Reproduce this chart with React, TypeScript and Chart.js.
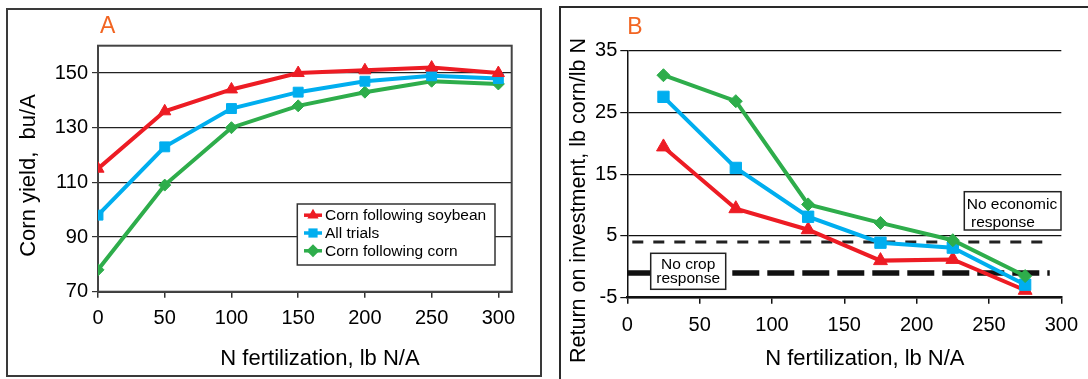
import React, { useEffect, useRef } from 'react';
import { Chart, registerables } from 'chart.js';

Chart.register(...registerables);

const FONT = '"Liberation Sans", Arial, Helvetica, sans-serif';
const RED = '#ED1C24';
const BLUE = '#00AEEF';
const GREEN = '#2EAD4B';
const ORANGE = '#F26522';

// ---------- Panel A data ----------
const seriesNames = ['Corn following soybean', 'All trials', 'Corn following corn'];
const nRatesA = [0, 50, 100, 150, 200, 250, 300];
const yieldSoybean = [115, 136, 144, 150, 151, 152, 150];
const yieldAll = [98, 123, 137, 143, 147, 149, 148];
const yieldCorn = [78, 109, 130, 138, 143, 147, 146];
const yTicksA = [70, 90, 110, 130, 150];
const xTicksA = [0, 50, 100, 150, 200, 250, 300];

// ---------- Panel B data ----------
const nRatesB = [25, 75, 125, 175, 225, 275];
const roiSoybean = [19.4, 9.4, 6.0, 1.0, 1.2, -3.8];
const roiAll = [27.5, 16.0, 8.1, 3.9, 3.1, -2.9];
const roiCorn = [31, 26.8, 10.1, 7.1, 4.3, -1.5];
const yTicksB = [-5, 5, 15, 25, 35];
const xTicksB = [0, 50, 100, 150, 200, 250, 300];
const thresholdX = [0, 292];
const noEconomicLevel = 4;
const noCropLevel = -1;
const noEconomicText = ['No economic', ' response'];
const noCropText = ['No crop', 'response'];

const titleA = 'A';
const titleB = 'B';
const yTitleA = 'Corn yield,  bu/A';
const yTitleB = 'Return on investment, lb corn/lb N';
const xTitle = 'N fertilization, lb N/A';

const pts = (xs: number[], ys: number[]) => xs.map((x, i) => ({ x, y: ys[i] }));
const setTicks = (vals: number[]) => (s: any) => {
  s.ticks = vals.map((v) => ({ value: v }));
};

function drawMarker(ctx: CanvasRenderingContext2D, style: string, x: number, y: number, r: number) {
  ctx.beginPath();
  if (style === 'triangle') {
    ctx.moveTo(x, y - r);
    ctx.lineTo(x + r * 0.866, y + r * 0.5);
    ctx.lineTo(x - r * 0.866, y + r * 0.5);
    ctx.closePath();
  } else if (style === 'rect') {
    const s = r * Math.SQRT1_2;
    ctx.rect(x - s, y - s, 2 * s, 2 * s);
  } else {
    ctx.moveTo(x, y - r);
    ctx.lineTo(x + r, y);
    ctx.lineTo(x, y + r);
    ctx.lineTo(x - r, y);
    ctx.closePath();
  }
  ctx.fill();
}

const textPlugin = {
  id: 'panelText',
  afterDraw(chart: any, _a: any, opts: any) {
    const ctx = chart.ctx as CanvasRenderingContext2D;
    for (const t of opts.items || []) {
      ctx.save();
      ctx.font = `${t.size}px ${FONT}`;
      ctx.fillStyle = t.color || '#000';
      ctx.textAlign = t.align || 'center';
      ctx.textBaseline = 'alphabetic';
      ctx.translate(t.x, t.y);
      if (t.rotate) ctx.rotate(t.rotate);
      ctx.fillText(t.text, 0, 0);
      ctx.restore();
    }
  },
};

const plotBoxPlugin = {
  id: 'plotBox',
  beforeDatasetsDraw(chart: any, _a: any, opts: any) {
    if (!opts.show) return;
    const { ctx, chartArea: c } = chart;
    ctx.save();
    ctx.strokeStyle = '#444';
    ctx.lineWidth = 2;
    ctx.strokeRect(c.left, c.top, c.right - c.left, c.bottom - c.top);
    ctx.restore();
  },
};

const insetLegendPlugin = {
  id: 'insetLegend',
  afterDatasetsDraw(chart: any, _a: any, opts: any) {
    if (!opts.box) return;
    const ctx = chart.ctx as CanvasRenderingContext2D;
    const b = opts.box;
    ctx.save();
    ctx.fillStyle = '#fff';
    ctx.fillRect(b.x, b.y, b.w, b.h);
    ctx.strokeStyle = '#333';
    ctx.lineWidth = 1.5;
    ctx.strokeRect(b.x, b.y, b.w, b.h);
    chart.data.datasets.forEach((ds: any, i: number) => {
      const y = opts.firstRow + i * opts.rowGap;
      ctx.strokeStyle = ds.borderColor;
      ctx.lineWidth = 3.5;
      ctx.beginPath();
      ctx.moveTo(opts.lineX0, y);
      ctx.lineTo(opts.lineX1, y);
      ctx.stroke();
      ctx.fillStyle = ds.backgroundColor;
      drawMarker(ctx, ds.pointStyle, (opts.lineX0 + opts.lineX1) / 2, y, opts.markerR);
      ctx.fillStyle = '#000';
      ctx.font = `${opts.fontSize}px ${FONT}`;
      ctx.textAlign = 'left';
      ctx.textBaseline = 'middle';
      ctx.fillText(ds.label, opts.textX, y + 0.5);
    });
    ctx.restore();
  },
};

const noteBoxPlugin = {
  id: 'noteBoxes',
  afterDatasetsDraw(chart: any, _a: any, opts: any) {
    const ctx = chart.ctx as CanvasRenderingContext2D;
    for (const n of opts.notes || []) {
      ctx.save();
      ctx.fillStyle = '#fff';
      ctx.fillRect(n.x, n.y, n.w, n.h);
      ctx.strokeStyle = '#222';
      ctx.lineWidth = 1.5;
      ctx.strokeRect(n.x, n.y, n.w, n.h);
      ctx.fillStyle = '#000';
      ctx.font = `${n.size}px ${FONT}`;
      ctx.textAlign = n.align;
      ctx.textBaseline = 'middle';
      n.lines.forEach((line: string, i: number) => ctx.fillText(line, n.tx, n.ty + i * n.gap));
      ctx.restore();
    }
  },
};

const tickFont = { family: FONT, size: 20 };

function seriesDataset(label: string, data: any[], color: string, style: string, r: number, order: number) {
  return {
    label,
    data,
    borderColor: color,
    backgroundColor: color,
    borderWidth: 4,
    pointStyle: style,
    pointRadius: r,
    pointBorderWidth: 1,
    pointBorderColor: color,
    pointBackgroundColor: color,
    tension: 0,
    order,
  };
}

function PanelA() {
  const ref = useRef<HTMLCanvasElement>(null);
  useEffect(() => {
    const chart = new Chart(ref.current as HTMLCanvasElement, {
      type: 'line',
      data: {
        datasets: [
          seriesDataset(seriesNames[0], pts(nRatesA, yieldSoybean), RED, 'triangle', 7, 0),
          seriesDataset(seriesNames[1], pts(nRatesA, yieldAll), BLUE, 'rect', 7, 1),
          seriesDataset(seriesNames[2], pts(nRatesA, yieldCorn), GREEN, 'rectRot', 6, 2),
        ] as any,
      },
      plugins: [plotBoxPlugin, insetLegendPlugin, textPlugin] as any,
      options: {
        responsive: false,
        animation: false,
        devicePixelRatio: 1,
        layout: { padding: { left: 0, top: 45.7, right: 38.3, bottom: 0 } },
        plugins: {
          legend: { display: false },
          tooltip: { enabled: false },
          plotBox: { show: true },
          insetLegend: {
            box: { x: 297.3, y: 204, w: 197.7, h: 61 },
            firstRow: 215.2,
            rowGap: 17.8,
            lineX0: 304,
            lineX1: 322,
            markerR: 6.5,
            textX: 325,
            fontSize: 15.5,
          },
          panelText: {
            items: [
              { text: titleA, x: 100, y: 33.3, size: 23, color: ORANGE, align: 'left' },
              { text: yTitleA, x: 35, y: 175.5, size: 22, rotate: -Math.PI / 2 },
              { text: xTitle, x: 320, y: 365, size: 22 },
            ],
          },
        } as any,
        scales: {
          x: {
            type: 'linear',
            min: 0,
            max: 310,
            afterBuildTicks: setTicks(xTicksA),
            afterFit: (s: any) => { s.height = 87.3; },
            grid: { drawOnChartArea: false, drawTicks: true, tickLength: 6, color: '#333', lineWidth: 1.5 },
            border: { display: true, color: '#333', width: 2 },
            ticks: { font: tickFont, color: '#000', padding: 9, maxRotation: 0, autoSkip: false },
          },
          y: {
            type: 'linear',
            min: 70,
            max: 160,
            afterBuildTicks: setTicks(yTicksA),
            afterFit: (s: any) => { s.width = 98; },
            grid: { color: '#222', lineWidth: 1.2, drawTicks: true, tickLength: 6, tickColor: '#333' },
            border: { display: true, color: '#444', width: 2 },
            ticks: { font: tickFont, color: '#000', padding: 4, autoSkip: false },
          },
        },
      } as any,
    });
    return () => chart.destroy();
  }, []);
  return (
    <canvas
      ref={ref}
      width={550}
      height={379}
      style={{ position: 'absolute', left: 0, top: 0, width: 550, height: 379 }}
    />
  );
}

function PanelB() {
  const ref = useRef<HTMLCanvasElement>(null);
  useEffect(() => {
    const chart = new Chart(ref.current as HTMLCanvasElement, {
      type: 'line',
      data: {
        datasets: [
          seriesDataset(seriesNames[0], pts(nRatesB, roiSoybean), RED, 'triangle', 8, 2),
          seriesDataset(seriesNames[1], pts(nRatesB, roiAll), BLUE, 'rect', 8, 1),
          seriesDataset(seriesNames[2], pts(nRatesB, roiCorn), GREEN, 'rectRot', 6.5, 0),
          {
            label: noEconomicText.join(''),
            data: thresholdX.map((x) => ({ x, y: noEconomicLevel })),
            borderColor: '#222',
            borderWidth: 3,
            borderDash: [11, 10],
            borderDashOffset: 16,
            pointRadius: 0,
            order: 10,
          },
          {
            label: noCropText.join(' '),
            data: thresholdX.map((x) => ({ x, y: noCropLevel })),
            borderColor: '#111',
            borderWidth: 5.5,
            borderDash: [27, 8],
            pointRadius: 0,
            order: 11,
          },
        ] as any,
      },
      plugins: [noteBoxPlugin, textPlugin] as any,
      options: {
        responsive: false,
        animation: false,
        devicePixelRatio: 1,
        layout: { padding: { left: 0, top: 50.5, right: 23.2, bottom: 0 } },
        plugins: {
          legend: { display: false },
          tooltip: { enabled: false },
          noteBoxes: {
            notes: [
              { lines: noEconomicText, x: 414.3, y: 191.7, w: 96.7, h: 38.3, tx: 416.7, ty: 205, gap: 17.7, size: 15.5, align: 'left' },
              { lines: noCropText, x: 100.7, y: 253.3, w: 75, h: 36, tx: 138.2, ty: 264.3, gap: 14, size: 15.5, align: 'center' },
            ],
          },
          panelText: {
            items: [
              { text: titleB, x: 77.3, y: 34.3, size: 23, color: ORANGE, align: 'left' },
              { text: yTitleB, x: 35, y: 200.5, size: 21.5, rotate: -Math.PI / 2 },
              { text: xTitle, x: 314.9, y: 365, size: 22 },
            ],
          },
        } as any,
        scales: {
          x: {
            type: 'linear',
            min: 0,
            max: 300,
            afterBuildTicks: setTicks(xTicksB),
            afterFit: (s: any) => { s.height = 81.3; },
            grid: { drawOnChartArea: false, drawTicks: true, tickLength: 6, color: '#111', lineWidth: 1.5 },
            border: { display: true, color: '#111', width: 2.5 },
            ticks: { font: tickFont, color: '#000', padding: 10, maxRotation: 0, autoSkip: false },
          },
          y: {
            type: 'linear',
            min: -5,
            max: 35,
            afterBuildTicks: setTicks(yTicksB),
            afterFit: (s: any) => { s.width = 77.3; },
            grid: { color: '#111', lineWidth: 1.2, drawTicks: true, tickLength: 7, tickColor: '#111' },
            border: { display: true, color: '#111', width: 1.5 },
            ticks: { font: tickFont, color: '#000', padding: 3, autoSkip: false },
          },
        },
      } as any,
    });
    return () => chart.destroy();
  }, []);
  return (
    <canvas
      ref={ref}
      width={538}
      height={379}
      style={{ position: 'absolute', left: 550, top: 0, width: 538, height: 379 }}
    />
  );
}

export default function App() {
  return (
    <div
      style={{
        position: 'fixed',
        left: 0,
        top: 0,
        width: 1088,
        height: 379,
        overflow: 'hidden',
        background: '#fff',
      }}
    >
      <div
        style={{
          position: 'absolute',
          left: 6,
          top: 8,
          width: 536,
          height: 369,
          boxSizing: 'border-box',
          border: '2px solid #3a3a3a',
        }}
      />
      <div
        style={{
          position: 'absolute',
          left: 559,
          top: 6,
          width: 600,
          height: 420,
          boxSizing: 'border-box',
          border: '2px solid #2a2a2a',
        }}
      />
      <PanelA />
      <PanelB />
    </div>
  );
}
